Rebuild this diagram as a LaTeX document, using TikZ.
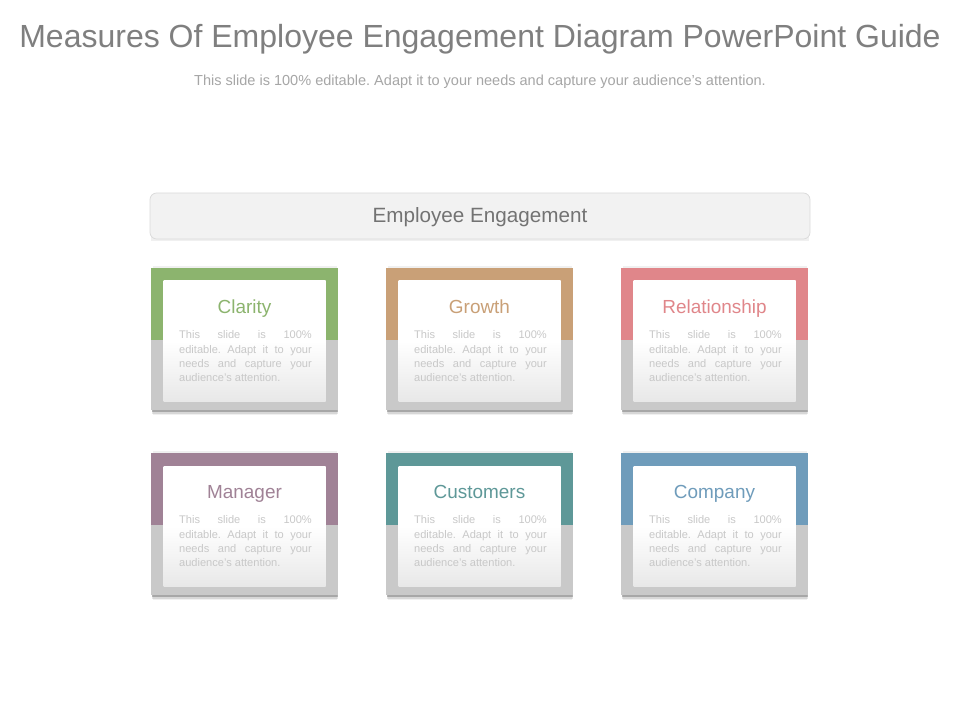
\documentclass[tikz,border=0pt]{standalone}
\usepackage{fontspec}
\setmainfont{Liberation Sans}
\frenchspacing
\definecolor{cGreen}{HTML}{8CB46E}
\definecolor{cTan}{HTML}{C9A077}
\definecolor{cPink}{HTML}{E0868A}
\definecolor{cMauve}{HTML}{A08296}
\definecolor{cTeal}{HTML}{5E9898}
\definecolor{cBlue}{HTML}{6F9CBB}
\definecolor{titlegray}{HTML}{7F7F7F}
\definecolor{subgray}{HTML}{A6A6A6}
\definecolor{bodygray}{HTML}{C8C8C8}
\definecolor{cardgray}{HTML}{C9C9C9}
\tikzset{
  outerbox/.style={minimum width=140.25pt, minimum height=106.5pt, inner sep=0pt, fill=cardgray},
  innerbox/.style={minimum width=121.5pt, minimum height=90pt, inner sep=0pt, top color=white, bottom color=black!9, middle color=white},
  cardtitle/.style={font=\fontsize{14.2}{16}\selectfont, inner sep=0pt, anchor=base},
  bodytext/.style={text width=99.5pt, align=justify, text=bodygray, inner sep=0pt, font=\fontsize{8.3}{10.7}\selectfont},
  headbox/.style={minimum width=495pt, minimum height=34.5pt, rounded corners=5pt, fill=black!5, draw=black!14, line width=0.6pt},
  shadowfill/.style={fill=black, fill opacity=#1, draw=none},
}
\newcommand\cardmk[5]{%
  \fill[shadowfill=0.06] (#2-92,#3-73) rectangle (#2+92,#3+76);
  \fill[shadowfill=0.10] (#2-93,#3+68) rectangle (#2+93,#3+75);
  \fill[shadowfill=0.22] (#2-93,#3+70) rectangle (#2+93,#3+73);
  \node[outerbox, path picture={\fill[#4] (path picture bounding box.north west) rectangle ([yshift=-54pt]path picture bounding box.north east);}] (#1) at (#2,#3) {};
  \node[innerbox] (#1i) at (#2,#3+2) {};
  \node[cardtitle, text=#4] (#1t) at (#2,#3-26) {#5};
  \node[bodytext, anchor=north] (#1b) at (#2+1,#3-8.5) {\hyphenpenalty=10000 This slide is 100\%\linebreak editable. Adapt it to your\linebreak needs and capture your\linebreak audience's attention.};
}
\begin{document}
\begin{tikzpicture}[x=0.75pt,y=-0.75pt]
\path[use as bounding box, fill=white] (0,0) rectangle (960,720);
\node[text=titlegray, font=\fontsize{24}{28}\selectfont, inner sep=0pt, anchor=base] (title) at (480,47.5) {Measures Of Employee Engagement Diagram PowerPoint Guide};
\node[text=subgray, font=\fontsize{10.9}{13}\selectfont, inner sep=0pt, anchor=base] (sub) at (480,86) {This slide is 100\% editable. Adapt it to your needs and capture your audience's attention.};
\fill[shadowfill=0.06] (151,195) rectangle (809,241);
\node[headbox] (head) at (480,216) {};
\node[text=black!55, font=\fontsize{15.5}{18}\selectfont, inner sep=0pt, anchor=base] (headt) at (480,223) {Employee Engagement};
\cardmk{c1}{244.5}{339}{cGreen}{Clarity}
\cardmk{c2}{479.5}{339}{cTan}{Growth}
\cardmk{c3}{714.5}{339}{cPink}{Relationship}
\cardmk{c4}{244.5}{524}{cMauve}{Manager}
\cardmk{c5}{479.5}{524}{cTeal}{Customers}
\cardmk{c6}{714.5}{524}{cBlue}{Company}
\end{tikzpicture}
\end{document}
